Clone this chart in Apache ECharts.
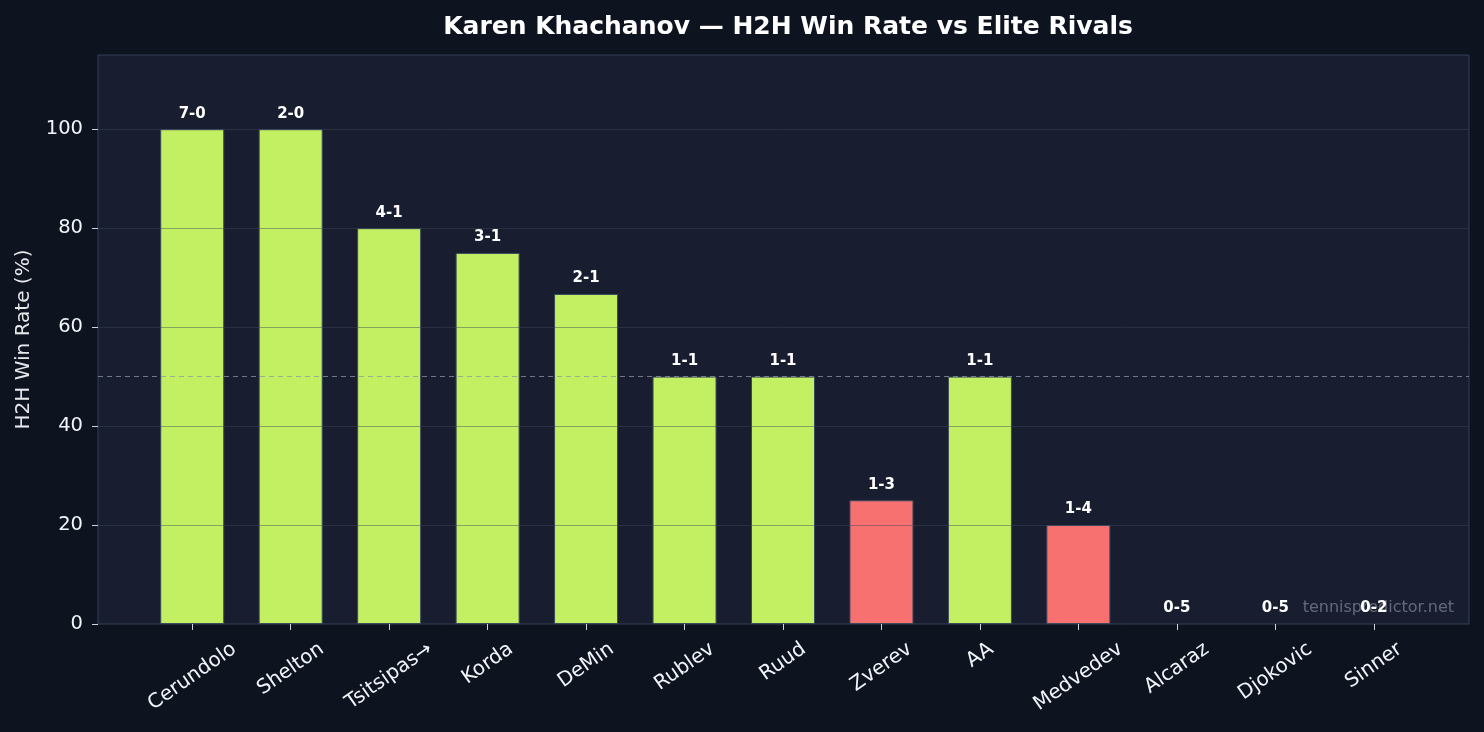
<!DOCTYPE html>
<html>
<head>
<meta charset="utf-8">
<script src="https://cdn.jsdelivr.net/npm/echarts@6/dist/echarts.min.js"></script>
<style>
  html, body { margin: 0; padding: 0; background: #0e1320; }
  #chart { width: 1484px; height: 732px; }
</style>
</head>
<body>
<div id="chart"></div>
<script>
// H2H data
var rivals = ["Cerundolo", "Shelton", "Tsitsipas→", "Korda", "DeMin", "Rublev", "Ruud",
              "Zverev", "AA", "Medvedev", "Alcaraz", "Djokovic", "Sinner"];
var winRate = [100, 100, 80, 75, 66.7, 50, 50, 25, 50, 20, 0, 0, 0];
var records = ["7-0", "2-0", "4-1", "3-1", "2-1", "1-1", "1-1", "1-3", "1-1", "1-4", "0-5", "0-5", "0-2"];
var yTicks = [0, 20, 40, 60, 80, 100];

var GREEN = "#c2f062";
var RED = "#f87171";
var FONT = "DejaVu Sans";
var XFONT_SIZE = 20;
var ROT = 35 * Math.PI / 180;

// text width measuring, used to place rotated labels like matplotlib (centered bbox)
var measureCtx = document.createElement("canvas").getContext("2d");
measureCtx.font = XFONT_SIZE + "px " + FONT;

var chart = echarts.init(document.getElementById("chart"));

var barData = winRate.map(function (v) {
  return {
    value: v,
    itemStyle: {
      color: v >= 50 ? GREEN : RED,
      borderWidth: v > 0 ? 1 : 0,
    },
  };
});

chart.setOption({
  backgroundColor: "#0e1320",
  animation: false,
  title: {
    text: "Karen Khachanov — H2H Win Rate vs Elite Rivals",
    left: 783,
    textAlign: "center",
    top: 10,
    textStyle: {
      color: "#ffffff",
      fontSize: 25,
      fontWeight: "bold",
      fontFamily: FONT,
    },
  },
  grid: [
    // frame
    {
      left: 98, right: 15, top: 55, bottom: 108,
      show: true,
      backgroundColor: "#181e30",
      borderColor: "#334155",
      borderWidth: 1,
    },
    // bars
    { left: 143, right: 61, top: 55, bottom: 108 },
  ],
  xAxis: [
    { gridIndex: 0, type: "value", min: 0, max: 1, show: false },
    {
      gridIndex: 1,
      type: "category",
      data: rivals,
      axisLine: { show: false },
      axisTick: {
        show: true,
        alignWithLabel: true,
        length: 6,
        lineStyle: { color: "#cbd5e1" },
      },
      axisLabel: { show: false },
    },
  ],
  yAxis: [
    {
      gridIndex: 0,
      type: "value",
      min: 0,
      max: 115,
      name: "H2H Win Rate (%)",
      nameLocation: "middle",
      nameGap: 64,
      nameTextStyle: { color: "#e5e7eb", fontSize: 20, fontFamily: FONT },
      axisLine: { show: false },
      axisTick: {
        show: true,
        length: 6,
        customValues: yTicks,
        lineStyle: { color: "#cbd5e1" },
      },
      axisLabel: {
        customValues: yTicks,
        color: "#f1f5f9",
        fontSize: 19.5,
        margin: 15,
        fontFamily: FONT,
      },
      splitLine: { show: false },
    },
    { gridIndex: 1, type: "value", min: 0, max: 115, show: false },
  ],
  graphic: [
    {
      type: "text",
      right: 30,
      top: 600,
      z: 1,
      style: {
        text: "tennispredictor.net",
        fill: "rgba(148,156,170,0.6)",
        fontSize: 16,
        fontFamily: FONT,
      },
    },
  ],
  series: [
    {
      type: "bar",
      xAxisIndex: 1,
      yAxisIndex: 1,
      data: barData,
      barWidth: "65%",
      z: 3,
      itemStyle: { borderColor: "#3b4a5e" },
      label: {
        show: true,
        position: "top",
        distance: 8,
        formatter: function (p) { return records[p.dataIndex]; },
        color: "#ffffff",
        fontSize: 15,
        fontWeight: "bold",
        fontFamily: FONT,
      },
    },
    {
      // rotated category labels, bbox centered under each tick
      type: "custom",
      xAxisIndex: 1,
      yAxisIndex: 1,
      silent: true,
      data: rivals.map(function (n, i) { return [i, 0]; }),
      renderItem: function (params, api) {
        var p = api.coord([api.value(0), 0]);
        var name = rivals[params.dataIndex];
        var w = measureCtx.measureText(name).width;
        var h = XFONT_SIZE;
        var bboxH = w * Math.sin(ROT) + h * Math.cos(ROT);
        return {
          type: "text",
          x: p[0],
          y: p[1] + 15 + bboxH / 2,
          rotation: ROT,
          style: {
            text: name,
            align: "center",
            verticalAlign: "middle",
            fill: "#f1f5f9",
            fontSize: XFONT_SIZE,
            fontFamily: FONT,
          },
        };
      },
    },
    {
      // gridlines drawn over the bars
      type: "line",
      xAxisIndex: 0,
      yAxisIndex: 0,
      data: [],
      z: 5,
      markLine: {
        silent: true,
        symbol: "none",
        z: 5,
        label: { show: false },
        data: yTicks.slice(1).map(function (v) {
          return { yAxis: v, lineStyle: { color: "rgba(60,72,88,0.45)", width: 1, type: "solid" } };
        }).concat([
          { yAxis: 50, lineStyle: { color: "rgba(140,152,166,0.75)", width: 1, type: [5, 4] } },
        ]),
      },
    },
  ],
});
</script>
</body>
</html>
